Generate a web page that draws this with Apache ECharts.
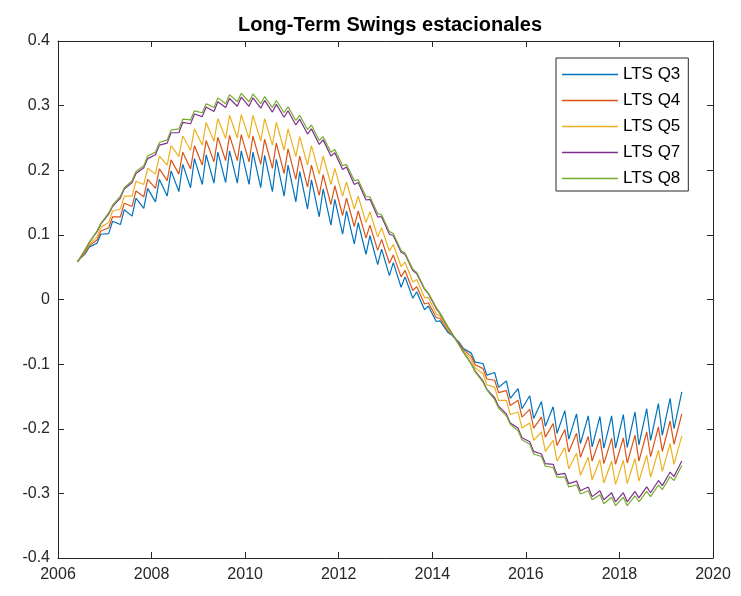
<!DOCTYPE html>
<html>
<head>
<meta charset="utf-8">
<script src="https://cdn.jsdelivr.net/npm/echarts@6/dist/echarts.min.js"></script>
<style>
  html, body { margin: 0; padding: 0; background: #ffffff; }
  #chart { width: 741px; height: 596px; }
</style>
</head>
<body>
<div id="chart"></div>
<script>
// Sample months: first and last month of each quarter, June 2006 – May 2019
const sampleMonths = [
  '2006-06','2006-08','2006-09','2006-11','2006-12','2007-02','2007-03','2007-05',
  '2007-06','2007-08','2007-09','2007-11','2007-12','2008-02','2008-03','2008-05',
  '2008-06','2008-08','2008-09','2008-11','2008-12','2009-02','2009-03','2009-05',
  '2009-06','2009-08','2009-09','2009-11','2009-12','2010-02','2010-03','2010-05',
  '2010-06','2010-08','2010-09','2010-11','2010-12','2011-02','2011-03','2011-05',
  '2011-06','2011-08','2011-09','2011-11','2011-12','2012-02','2012-03','2012-05',
  '2012-06','2012-08','2012-09','2012-11','2012-12','2013-02','2013-03','2013-05',
  '2013-06','2013-08','2013-09','2013-11','2013-12','2014-02','2014-03','2014-05',
  '2014-06','2014-08','2014-09','2014-11','2014-12','2015-02','2015-03','2015-05',
  '2015-06','2015-08','2015-09','2015-11','2015-12','2016-02','2016-03','2016-05',
  '2016-06','2016-08','2016-09','2016-11','2016-12','2017-02','2017-03','2017-05',
  '2017-06','2017-08','2017-09','2017-11','2017-12','2018-02','2018-03','2018-05',
  '2018-06','2018-08','2018-09','2018-11','2018-12','2019-02','2019-03','2019-05'
];

const seriesNames = ['LTS Q3', 'LTS Q4', 'LTS Q5', 'LTS Q7', 'LTS Q8'];

const ltsQ3 = [
  .059,.071, .081,.087, .101,.102, .121,.116, .139,.129, .157,.141, .172,.151, .186,.160,
  .199,.167, .209,.173, .218,.178, .224,.180, .228,.181, .230,.180, .230,.178, .228,.173,
  .223,.167, .217,.160, .208,.151, .198,.140, .185,.128, .171,.115, .155,.101, .137,.086,
  .119,.070, .099,.054, .078,.037, .057,.019, .035,.002, .012,-.016, -.010,-.034, -.033,-.051,
  -.055,-.067, -.076,-.083, -.097,-.099, -.117,-.113, -.136,-.126, -.153,-.138, -.169,-.149, -.184,-.158,
  -.196,-.166, -.207,-.172, -.216,-.177, -.223,-.180, -.228,-.181, -.230,-.180, -.230,-.178, -.229,-.174,
  -.225,-.169, -.218,-.161, -.210,-.153, -.200,-.143
];

const ltsQ4 = [
  .059,.073, .083,.092, .106,.111, .128,.128, .149,.144, .168,.159, .186,.172, .202,.184,
  .216,.194, .228,.202, .238,.208, .246,.213, .251,.215, .254,.215, .255,.213, .253,.209,
  .248,.203, .242,.195, .233,.186, .222,.174, .208,.161, .193,.147, .176,.130, .157,.113,
  .137,.095, .115,.076, .093,.056, .069,.035, .045,.014, .020,-.007, -.005,-.028, -.029,-.048,
  -.054,-.069, -.078,-.088, -.101,-.107, -.123,-.125, -.144,-.141, -.164,-.156, -.182,-.170, -.199,-.182,
  -.213,-.192, -.226,-.201, -.236,-.207, -.244,-.212, -.250,-.215, -.254,-.215, -.255,-.214, -.253,-.210,
  -.250,-.205, -.243,-.197, -.235,-.188, -.224,-.177
];

const ltsQ5 = [
  .058,.075, .085,.097, .112,.119, .137,.140, .160,.160, .183,.178, .203,.194, .222,.208,
  .238,.221, .253,.231, .264,.239, .274,.245, .280,.249, .285,.250, .286,.249, .285,.245,
  .280,.239, .274,.231, .264,.221, .252,.208, .238,.194, .222,.178, .203,.160, .182,.140,
  .160,.119, .136,.097, .111,.075, .085,.051, .058,.027, .031,.003, .003,-.022, -.025,-.046,
  -.053,-.070, -.080,-.093, -.106,-.115, -.132,-.136, -.156,-.156, -.178,-.174, -.199,-.191, -.218,-.205,
  -.235,-.218, -.250,-.229, -.262,-.238, -.272,-.244, -.279,-.248, -.284,-.250, -.286,-.249, -.285,-.246,
  -.281,-.241, -.275,-.233, -.266,-.223, -.255,-.211
];

const ltsQ7 = [
  .058,.077, .088,.105, .117,.132, .144,.157, .171,.181, .195,.204, .218,.224, .239,.242,
  .258,.258, .274,.272, .287,.283, .298,.291, .306,.297, .311,.299, .313,.299, .312,.296,
  .308,.290, .302,.282, .292,.270, .279,.256, .264,.240, .247,.222, .227,.201, .205,.178,
  .181,.154, .155,.128, .128,.101, .099,.073, .070,.045, .040,.016, .009,-.014, -.022,-.043,
  -.052,-.071, -.082,-.099, -.111,-.126, -.139,-.152, -.165,-.177, -.191,-.199, -.214,-.220, -.235,-.239,
  -.254,-.255, -.271,-.269, -.285,-.281, -.296,-.290, -.305,-.296, -.310,-.299, -.313,-.299, -.313,-.297,
  -.307,-.290, -.299,-.280, -.288,-.267, -.274,-.250
];

const ltsQ8 = [
  .058,.078, .088,.106, .118,.134, .146,.160, .173,.184, .198,.207, .222,.228, .243,.247,
  .262,.264, .279,.278, .292,.289, .303,.297, .312,.303, .317,.306, .319,.306, .318,.303,
  .314,.297, .308,.289, .298,.277, .285,.263, .270,.246, .252,.228, .232,.207, .209,.184,
  .185,.159, .159,.133, .131,.105, .102,.076, .072,.047, .042,.017, .010,-.012, -.021,-.042,
  -.052,-.072, -.082,-.100, -.112,-.128, -.140,-.155, -.168,-.180, -.193,-.203, -.217,-.224, -.239,-.243,
  -.258,-.260, -.275,-.275, -.290,-.287, -.301,-.296, -.310,-.302, -.316,-.306, -.319,-.306, -.319,-.304,
  -.313,-.297, -.305,-.287, -.294,-.274, -.280,-.257
];

const yearTicks = [2006, 2008, 2010, 2012, 2014, 2016, 2018, 2020];
const valueTicks = [-0.4, -0.3, -0.2, -0.1, 0, 0.1, 0.2, 0.3, 0.4];

// 'YYYY-MM' -> decimal year for the value axis
function toYear(s) {
  const [y, m] = s.split('-').map(Number);
  return y + (m - 1) / 12;
}
const xYears = sampleMonths.map(toYear);

const allSeries = [ltsQ3, ltsQ4, ltsQ5, ltsQ7, ltsQ8];
const lineColors = ['#0072BD', '#D95319', '#EDB120', '#7E2F8E', '#77AC30'];
const FONT = '"Liberation Sans", Arial, Helvetica, sans-serif';
const INK = '#262626';

function boxAxis(common, extra) {
  return Object.assign({
    type: 'value',
    axisLine: { show: true, onZero: false, lineStyle: { color: INK, width: 1 } },
    axisTick: { show: true, inside: true, length: 6, lineStyle: { color: INK, width: 1 } },
    splitLine: { show: false },
    minorTick: { show: false }
  }, common, extra);
}

const xCommon = { min: yearTicks[0], max: yearTicks[yearTicks.length - 1], interval: yearTicks[1] - yearTicks[0] };
const yCommon = { min: valueTicks[0], max: valueTicks[valueTicks.length - 1], interval: 0.1 };

const chart = echarts.init(document.getElementById('chart'), null, { renderer: 'canvas' });
chart.setOption({
  animation: false,
  backgroundColor: '#ffffff',
  title: {
    text: 'Long-Term Swings estacionales',
    left: 385,
    textAlign: 'center',
    top: 10,
    textStyle: { fontFamily: FONT, fontSize: 20, fontWeight: 'bold', color: '#000' }
  },
  grid: { left: 58, right: 28, top: 41, bottom: 38, containLabel: false },
  legend: {
    data: seriesNames,
    orient: 'vertical',
    left: 556,
    top: 58,
    icon: 'rect',
    itemWidth: 56,
    itemHeight: 1.5,
    itemGap: 9,
    padding: [8, 8, 4, 6],
    borderColor: INK,
    borderWidth: 1,
    backgroundColor: '#ffffff',
    textStyle: { fontFamily: FONT, fontSize: 17, color: '#000', lineHeight: 17 }
  },
  xAxis: [
    boxAxis(xCommon, {
      position: 'bottom',
      axisLabel: { color: INK, fontFamily: FONT, fontSize: 16, margin: 9, formatter: v => String(v) }
    }),
    boxAxis(xCommon, { position: 'top', axisLabel: { show: false } })
  ],
  yAxis: [
    boxAxis(yCommon, {
      position: 'left',
      axisLabel: { color: INK, fontFamily: FONT, fontSize: 16, margin: 8,
        formatter: v => String(Math.round(v * 10) / 10) }
    }),
    boxAxis(yCommon, { position: 'right', axisLabel: { show: false } })
  ],
  series: allSeries.map((vals, k) => ({
    name: seriesNames[k],
    type: 'line',
    xAxisIndex: 0,
    yAxisIndex: 0,
    symbol: 'none',
    showSymbol: false,
    color: lineColors[k],
    lineStyle: { color: lineColors[k], width: 1.2 },
    data: vals.map((v, i) => [xYears[i], v])
  }))
});
</script>
</body>
</html>
